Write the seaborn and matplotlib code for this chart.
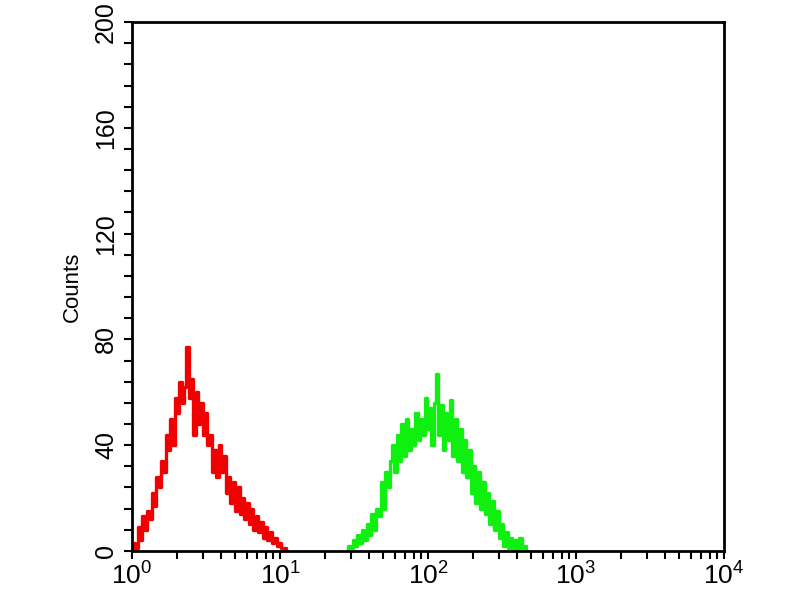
import numpy as np
import pandas as pd
import matplotlib
matplotlib.use('Agg')
import matplotlib.pyplot as plt
from matplotlib.ticker import LogLocator, MultipleLocator, FixedLocator, NullFormatter
import seaborn as sns

# 256 log channels across 4 decades (10^0 .. 10^4)
channels_per_decade = 64

# red histogram (control), counts per channel starting at channel 0
red_start = 0
red_counts = [0, 3, 1, 9, 4, 13, 8, 15, 12, 22, 17, 28, 24, 34, 30, 44, 38, 50, 40, 58,
              52, 64, 56, 62, 77, 58, 65, 44, 60, 48, 56, 44, 52, 40, 44, 30, 38, 28, 40, 30,
              36, 22, 28, 18, 26, 15, 24, 14, 20, 12, 18, 10, 16, 8, 13, 7, 11, 5, 9, 4,
              7, 3, 5, 2, 3, 1, 1, 0]

# green histogram (stained), counts per channel starting at channel 93
green_start = 93
green_counts = [0, 2, 1, 4, 2, 6, 3, 8, 4, 10, 6, 14, 8, 16, 13, 26, 16, 30, 24, 34,
                40, 30, 44, 34, 48, 36, 50, 38, 46, 40, 52, 42, 50, 44, 58, 46, 54, 40, 56, 67,
                44, 55, 38, 52, 42, 57, 36, 50, 34, 46, 30, 42, 28, 38, 22, 32, 18, 30, 16, 26,
                14, 22, 10, 19, 8, 15, 5, 10, 2, 7, 1, 5, 1, 4, 0, 5, 1, 2, 0]

y_labels = [0, 40, 80, 120, 160, 200]
x_decades = [0, 1, 2, 3, 4]


def to_frame(start, counts, name):
    ch = np.arange(start, start + len(counts))
    return pd.DataFrame({'fl': 10 ** (ch / channels_per_decade),
                         'count': counts, 'sample': name})


df = pd.concat([to_frame(red_start, red_counts, 'red'),
                to_frame(green_start, green_counts, 'green')], ignore_index=True)

sns.set_style('ticks')
plt.rcParams['font.family'] = ['Liberation Sans', 'DejaVu Sans']
plt.rcParams['mathtext.fontset'] = 'custom'
plt.rcParams['mathtext.rm'] = 'Liberation Sans'
plt.rcParams['mathtext.it'] = 'Liberation Sans'
plt.rcParams['text.color'] = 'black'
plt.rcParams['xtick.color'] = 'black'
plt.rcParams['ytick.color'] = 'black'
plt.rcParams['axes.labelcolor'] = 'black'

fig = plt.figure(figsize=(8, 6), dpi=100)
ax = fig.add_axes([0.165, 0.082, 0.74, 0.881])

sns.lineplot(data=df, x='fl', y='count', hue='sample',
             palette={'red': '#f00000', 'green': '#10f010'},
             drawstyle='steps-mid', linewidth=2.4, legend=False, ax=ax,
             estimator=None, sort=False)

ax.set_xscale('log')
ax.set_xlim(1, 1e4)
ax.set_ylim(0, 200)

ax.xaxis.set_major_locator(FixedLocator([10 ** d for d in x_decades]))
ax.set_xticklabels([f'$10^{{{d}}}$' for d in x_decades], fontsize=19)
ax.xaxis.set_minor_locator(LogLocator(base=10, subs=np.arange(2, 10)))
ax.xaxis.set_minor_formatter(NullFormatter())

ax.yaxis.set_major_locator(FixedLocator(y_labels))
ax.set_yticklabels([str(v) for v in y_labels], fontsize=18, rotation=90, va='center')
ax.yaxis.set_minor_locator(MultipleLocator(8))

ax.tick_params(which='both', direction='out', length=6, width=1.5, color='black')
ax.tick_params(axis='x', pad=2)
ax.tick_params(axis='y', pad=4)

for s in ax.spines.values():
    s.set_linewidth(2)
    s.set_color('black')

ax.set_xlabel('')
ax.set_ylabel('Counts', fontsize=16, labelpad=8)

fig.savefig('out.png', dpi=100, facecolor='white')
